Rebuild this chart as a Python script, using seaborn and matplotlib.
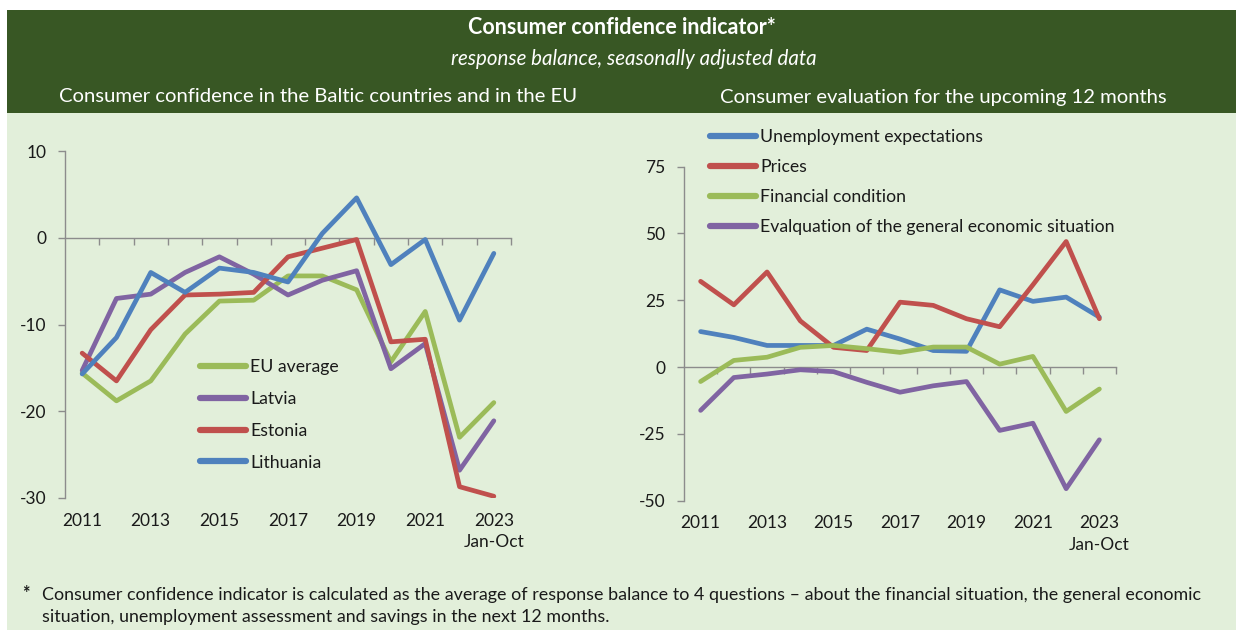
import matplotlib
matplotlib.use("Agg")
import matplotlib.pyplot as plt
from matplotlib.patches import Rectangle
import numpy as np
import pandas as pd
import seaborn as sns

# ---------------- data ----------------
years = [2011, 2012, 2013, 2014, 2015, 2016, 2017, 2018, 2019, 2020, 2021, 2022, 2023]
tick_years = [2011, 2013, 2015, 2017, 2019, 2021, 2023]
tick_labels = ["2011", "2013", "2015", "2017", "2019", "2021", "2023\nJan-Oct"]

eu_average = [-15.6, -18.8, -16.5, -11.1, -7.3, -7.2, -4.4, -4.4, -6.0, -14.3, -8.5, -23.0, -19.0]
latvia = [-15.3, -7.0, -6.5, -4.0, -2.2, -4.2, -6.6, -4.9, -3.8, -15.1, -12.2, -26.8, -21.1]
estonia = [-13.3, -16.5, -10.6, -6.6, -6.5, -6.3, -2.2, -1.2, -0.2, -12.0, -11.7, -28.7, -29.8]
lithuania = [-15.7, -11.5, -4.0, -6.3, -3.5, -4.0, -5.1, 0.5, 4.6, -3.1, -0.2, -9.5, -1.8]

unemployment = [13.3, 11.1, 8.1, 8.1, 8.1, 14.2, 10.5, 6.2, 5.9, 28.9, 24.6, 26.2, 18.7]
prices = [32.1, 23.3, 35.6, 17.3, 7.4, 6.2, 24.3, 23.1, 18.1, 15.1, 30.8, 47.0, 18.1]
financial = [-5.4, 2.5, 3.7, 7.4, 8.1, 6.9, 5.5, 7.5, 7.5, 1.1, 4.0, -16.6, -8.2]
general_econ = [-16.2, -3.9, -2.6, -1.0, -1.7, -5.7, -9.4, -7.0, -5.4, -23.7, -21.0, -45.5, -27.2]

left_names = ["EU average", "Latvia", "Estonia", "Lithuania"]
left_series = [eu_average, latvia, estonia, lithuania]
right_names = ["Unemployment expectations", "Prices", "Financial condition",
               "Evalquation of the general economic situation"]
right_series = [unemployment, prices, financial, general_econ]

GREEN = "#9BBB59"
PURPLE = "#8064A2"
RED = "#C0504D"
BLUE = "#4F81BD"
left_colors = [GREEN, PURPLE, RED, BLUE]
right_colors = [BLUE, RED, GREEN, PURPLE]

HEADER = "#385724"
BG = "#E2EFDA"
AXC = "#8c8c8c"
FONT = ["Lato", "DejaVu Sans"]

sns.set_theme(style="white")
plt.rcParams["font.family"] = FONT
plt.rcParams["text.color"] = "#1a1a1a"

fig = plt.figure(figsize=(12.43, 6.3), dpi=100)
fig.patch.set_facecolor("white")

W, H = 1243.0, 630.0
def fx(px):
    return px / W
def fy(py):
    return 1 - py / H

# background panels
fig.patches.append(Rectangle((fx(7), fy(113)), fx(1236) - fx(7), fy(10) - fy(113),
                             transform=fig.transFigure, facecolor=HEADER, edgecolor="none", zorder=-10))
fig.patches.append(Rectangle((fx(7), 0), fx(1236) - fx(7), fy(113),
                             transform=fig.transFigure, facecolor=BG, edgecolor="none", zorder=-10))

fig.text(fx(622), fy(28), "Consumer confidence indicator*", ha="center", va="center",
         color="white", fontsize=15.5, fontweight="bold")
fig.text(fx(634), fy(59), "response balance, seasonally adjusted data", ha="center", va="center",
         color="white", fontsize=14.8, style="italic")
fig.text(fx(318), fy(97), "Consumer confidence in the Baltic countries and in the EU",
         ha="center", va="center", color="white", fontsize=14.6)
fig.text(fx(943), fy(97), "Consumer evaluation for the upcoming 12 months",
         ha="center", va="center", color="white", fontsize=14.6)

fig.text(fx(22), fy(594), "*", ha="left", va="center", fontsize=13, fontweight="bold")
fig.text(fx(42), fy(606),
         "Consumer confidence indicator is calculated as the average of response balance to 4 questions \u2013 about the financial situation, the general economic\n"
         "situation, unemployment assessment and savings in the next 12 months.",
         ha="left", va="center", fontsize=12.9, linespacing=1.5)


def make_df(names, series):
    rows = []
    for n, s in zip(names, series):
        for y, v in zip(years, s):
            rows.append({"year": y, "value": v, "series": n})
    return pd.DataFrame(rows)


def draw(ax, names, series, colors, ylim, yticks, legend_anchor, labelspacing):
    df = make_df(names, series)
    sns.lineplot(data=df, x="year", y="value", hue="series", hue_order=names,
                 palette=dict(zip(names, colors)), linewidth=3.4, ax=ax,
                 solid_capstyle="round", solid_joinstyle="round", legend=True)
    ax.set_facecolor("none")
    ax.set_xlim(years[0] - 0.5, years[-1] + 0.5)
    ax.set_ylim(*ylim)
    ax.set_yticks(yticks)
    ax.set_yticklabels([str(t) for t in yticks])
    ax.set_xticks(tick_years)
    ax.set_xticklabels(tick_labels)
    ax.set_xlabel("")
    ax.set_ylabel("")
    for s in ["top", "right", "bottom"]:
        ax.spines[s].set_visible(False)
    ax.spines["left"].set_color(AXC)
    ax.spines["left"].set_linewidth(1.0)
    ax.tick_params(axis="y", direction="out", length=5, width=1, color=AXC,
                   labelsize=12.5, labelcolor="#1a1a1a", pad=8.5, left=True)
    ax.tick_params(axis="x", length=0, labelsize=12.5, labelcolor="#1a1a1a", pad=10.5)
    for lab in ax.get_xticklabels():
        lab.set_linespacing(1.42)
    # zero axis line with category boundary ticks
    frac0 = (0 - ylim[0]) / (ylim[1] - ylim[0])
    sec = ax.secondary_xaxis(frac0)
    sec.set_alignment("bottom")
    sec.set_xticks([y + 0.5 for y in years])
    sec.set_xticklabels([])
    sec.tick_params(axis="x", which="both", direction="out", length=5, width=1, color=AXC,
                    bottom=True, top=False, labelbottom=False, labeltop=False)
    sec.spines["bottom"].set_visible(True)
    sec.spines["bottom"].set_color(AXC)
    sec.spines["bottom"].set_linewidth(1.0)
    handles, labels = ax.get_legend_handles_labels()
    leg = ax.legend(handles, labels, loc="upper left", bbox_to_anchor=legend_anchor,
                    frameon=False, fontsize=12.7, handlelength=2.6, handletextpad=0.26,
                    labelspacing=labelspacing, borderpad=0, borderaxespad=0)
    for ln in leg.get_lines():
        ln.set_linewidth(4.5)
        ln.set_solid_capstyle("round")
    return ax


ax1 = fig.add_axes([fx(65), fy(498), fx(511) - fx(65), fy(151) - fy(498)])
draw(ax1, left_names, left_series, left_colors, (-30, 10), [-30, -20, -10, 0, 10],
     ((200 - 65) / 446.0, (498 - 359) / 347.0), 0.9)

ax2 = fig.add_axes([fx(684), fy(500.7), fx(1116) - fx(684), fy(166.7) - fy(500.7)])
draw(ax2, right_names, right_series, right_colors, (-50, 75), [-50, -25, 0, 25, 50, 75],
     ((710 - 684) / 432.0, (500.7 - 129) / 334.0), 0.8)

fig.savefig("out.png", dpi=100, facecolor=fig.get_facecolor())
